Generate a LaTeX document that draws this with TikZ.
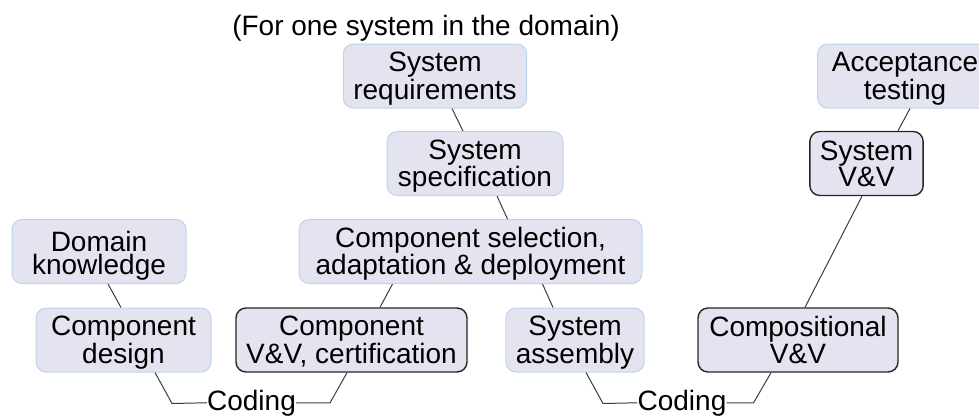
\documentclass[tikz,border=0pt]{standalone}
\usepackage{fontspec}
\setmainfont{Liberation Sans}

\definecolor{boxfill}{RGB}{228,228,240}
\definecolor{boxline}{RGB}{188,212,238}
\definecolor{wire}{RGB}{60,60,60}

\begin{document}
\begin{tikzpicture}[x=1pt, y=-1pt, font=\fontsize{28}{23}\selectfont,
		task/.style={draw=boxline, line width=1pt, fill=boxfill, rounded corners=10pt,
			align=center, inner xsep=10pt, inner ysep=3pt,
			text height=52pt, text depth=6pt, minimum height=64pt},
		check/.style={task, draw=black!85, line width=1.4pt},
		link/.style={draw=wire, line width=1pt}]
				\useasboundingbox (0,0) rectangle (979,416);

				\node (0) at (426,35) [anchor=base] {(For one system in the domain)};

				% system side
				\node (1) at (435,76) [task, minimum width=176pt] {System\\requirements};
				\node (2) at (475,163.5) [task, minimum width=176pt] {System\\specification};
				\node (3) at (470.5,251.5) [task, minimum width=343pt] {Component selection,\\adaptation \& deployment};
				\node (7) at (575,340) [task, minimum width=136pt] {System\\assembly};

				% component side
				\node (4) at (99,251.5) [task, minimum width=174pt] {Domain\\knowledge};
				\node (5) at (123.5,340) [task, minimum width=175pt] {Component\\design};
				\node (6) at (351.5,340) [check, minimum width=231pt] {Component\\V\&V, certification};

				% verification up to acceptance
				\node (10) at (798,340) [check, minimum width=200pt] {Compositional\\V\&V};
				\node (11) at (866.5,163.5) [check, minimum width=113pt] {System\\V\&V};
				\node (12) at (905,76) [task, minimum width=175pt] {Acceptance\\testing};

				\node (8) at (251.5,410) [anchor=base, inner sep=0pt] {Coding};
				\node (9) at (682,410) [anchor=base, inner sep=0pt] {Coding};

				\draw [link] ([xshift=17pt]1.south) -- ([xshift=-12pt]2.north);
				\draw [link] ([xshift=22pt]2.south) -- ([xshift=37pt]3.north);
				\draw [link] ([xshift=9pt]4.south) -- ([xshift=-2.5pt]5.north);
				\draw [link] ([xshift=-78pt]3.south) -- ([xshift=28.5pt]6.north);
				\draw [link] ([xshift=72pt]3.south) -- ([xshift=-22pt]7.north);
				\draw [link] ([xshift=31.5pt]5.south) -- ++(17,31) -- (8.west);
				\draw [link] (8.east) -- ++(34,0) -- ([xshift=-4.5pt]6.south);
				\draw [link] ([xshift=11pt]7.south) -- ++(17,31) -- (9.west);
				\draw [link] (9.east) -- ++(27,0) -- ([xshift=-27pt]10.south);
				\draw [link] ([xshift=7pt]10.north) -- ([xshift=-4.5pt]11.south);
				\draw [link] ([xshift=31.5pt]11.north) -- ([xshift=5pt]12.south);
			\end{tikzpicture}
\end{document}
